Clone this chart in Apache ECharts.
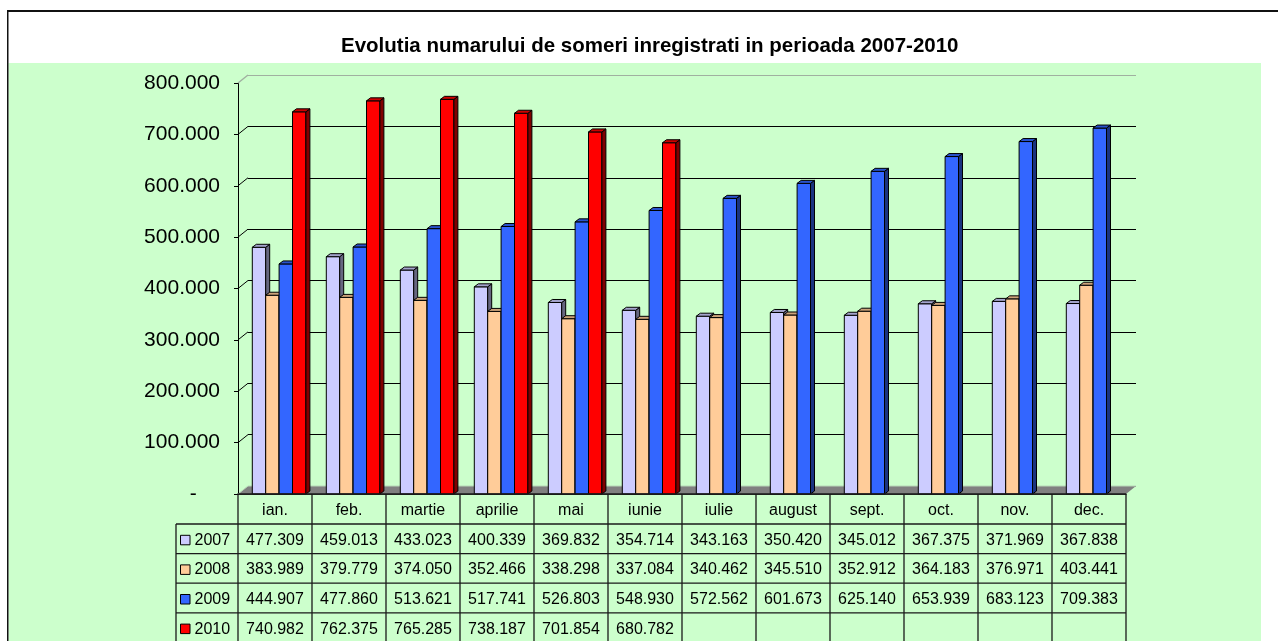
<!DOCTYPE html>
<html><head><meta charset="utf-8">
<script src="https://cdn.jsdelivr.net/npm/echarts@6/dist/echarts.min.js"></script>
<style>html,body{margin:0;padding:0;background:#fff;overflow:hidden}#c{width:1278px;height:641px}</style>
</head><body><div id="c"></div>
<script>
// ---- data ----
const categories = ['ian.','feb.','martie','aprilie','mai','iunie','iulie','august','sept.','oct.','nov.','dec.'];
const years = ['2007','2008','2009','2010'];
const v2007 = [477309,459013,433023,400339,369832,354714,343163,350420,345012,367375,371969,367838];
const v2008 = [383989,379779,374050,352466,338298,337084,340462,345510,352912,364183,376971,403441];
const v2009 = [444907,477860,513621,517741,526803,548930,572562,601673,625140,653939,683123,709383];
const v2010 = [740982,762375,765285,738187,701854,680782,null,null,null,null,null,null];
const yTicks = [0,100000,200000,300000,400000,500000,600000,700000,800000];
const title = 'Evolutia numarului de someri inregistrati in perioada 2007-2010';

const seriesVals = [v2007, v2008, v2009, v2010];
const frontColors = ['#CCCCFF','#FFCC99','#3366FF','#FF0000'];
const topColors   = ['#A3A3CC','#CCA37A','#2952CC','#CC0000'];
const sideColors  = ['#666680','#80664D','#1A3380','#800000'];

// ---- layout ----
const L = 238, T = 83, W = 888, H = 411, DX = 10, DY = -8;
const FONT = 'Arial, "Liberation Sans", sans-serif';
const BAR_OFF = 14.3/74, BAR_W = 13.4/74, BDX = 4, BDY = -3, BASE_LIFT = 1.5;

const fmt = v => String(v).replace(/\B(?=(\d{3})+(?!\d))/g, '.');

function barSeries(i) {
  const data = [];
  seriesVals[i].forEach((v, k) => { if (v != null) data.push([k, v]); });
  return {
    type: 'custom', name: years[i], xAxisIndex: 0, yAxisIndex: 0, z: 3,
    data: data,
    renderItem: function (params, api) {
      const k = api.value(0), v = api.value(1);
      const base = api.coord([k, 0]);
      const top = api.coord([k, v]);
      const band = api.size([1, 0])[0];
      const x0 = base[0] - band / 2 + band * BAR_OFF + i * band * BAR_W;
      const w = band * BAR_W;
      const yb = base[1], yt = top[1] - BASE_LIFT;
      const st = { stroke: '#000', lineWidth: 1 };
      return { type: 'group', children: [
        { type: 'rect', shape: { x: x0, y: yt, width: w, height: yb - yt }, style: Object.assign({ fill: frontColors[i] }, st) },
        { type: 'polygon', shape: { points: [[x0 + w, yb], [x0 + w, yt], [x0 + w + BDX, yt + BDY], [x0 + w + BDX, yb + BDY]] }, style: Object.assign({ fill: sideColors[i] }, st) },
        { type: 'polygon', shape: { points: [[x0, yt], [x0 + w, yt], [x0 + w + BDX, yt + BDY], [x0 + BDX, yt + BDY]] }, style: Object.assign({ fill: topColors[i] }, st) }
      ]};
    }
  };
}

const floorSeries = {
  type: 'custom', xAxisIndex: 0, yAxisIndex: 0, z: 2, silent: true,
  data: [[0, 0]],
  renderItem: function (params, api) {
    const band = api.size([1, 0])[0];
    const a = api.coord([0, 0]), b = api.coord([categories.length - 1, 0]);
    const xl = a[0] - band / 2, xr = b[0] + band / 2, y = a[1];
    return { type: 'group', children: [
      { type: 'polygon', shape: { points: [[xl, y], [xr, y], [xr + DX, y + DY], [xl + DX, y + DY]] }, style: { fill: '#808080' } },
      { type: 'line', shape: { x1: xl + DX, y1: y + DY, x2: xr + DX, y2: y + DY }, style: { stroke: '#B8D8B8', lineWidth: 1 } },
      { type: 'line', shape: { x1: xl, y1: y, x2: xl + DX, y2: y + DY }, style: { stroke: '#B8D8B8', lineWidth: 1 } }
    ]};
  }
};

const linkSeries = {
  type: 'custom', xAxisIndex: 0, yAxisIndex: 0, z: 2, silent: true,
  data: yTicks.filter(v => v > 0).map(v => [0, v]),
  renderItem: function (params, api) {
    const band = api.size([1, 0])[0];
    const v = api.value(1);
    const p = api.coord([0, v]);
    const xl = p[0] - band / 2;
    return { type: 'line', shape: { x1: xl, y1: p[1], x2: xl + DX, y2: p[1] + DY },
      style: { stroke: v === 800000 ? '#A0B0A0' : '#000', lineWidth: v === 800000 ? 1.5 : 1 } };
  }
};

// ---- data table (graphic) ----
const colW = W / categories.length;
const headTop = T + H, headH = 30, rowH = 29.6, legLeft = 176, bottomY = 660;
const rowTops = years.map((y, r) => headTop + headH + r * rowH);
const table = [];
table.push({ type: 'rect', z: -10, shape: { x: 8.5, y: 63, width: 1252.5, height: 600 }, style: { fill: '#CCFFCC' } });
table.push({ type: 'line', z: 20, shape: { x1: 7, y1: 11, x2: 1300, y2: 11 }, style: { stroke: '#111', lineWidth: 2 } });
table.push({ type: 'line', z: 20, shape: { x1: 7.75, y1: 10, x2: 7.75, y2: 700 }, style: { stroke: '#111', lineWidth: 1.5 } });
const ls = { stroke: '#1a1a1a', lineWidth: 1.3 };
table.push({ type: 'line', z: 10, shape: { x1: L, y1: headTop, x2: L + W, y2: headTop }, style: ls });
rowTops.forEach(y => table.push({ type: 'line', z: 10, shape: { x1: legLeft, y1: y, x2: L + W, y2: y }, style: ls }));
table.push({ type: 'line', z: 10, shape: { x1: legLeft, y1: rowTops[0], x2: legLeft, y2: bottomY }, style: ls });
for (let k = 0; k <= categories.length; k++) {
  table.push({ type: 'line', z: 10, shape: { x1: L + k * colW, y1: headTop, x2: L + k * colW, y2: bottomY }, style: ls });
}
categories.forEach((c, k) => table.push({ type: 'text', z: 10, x: L + (k + 0.5) * colW, y: headTop + headH / 2 + 1.5,
  style: { text: c, fill: '#000', font: '16px ' + FONT, textAlign: 'center', textVerticalAlign: 'middle' } }));
years.forEach((yr, r) => {
  const cy = rowTops[r] + rowH / 2 + 1.5;
  table.push({ type: 'rect', z: 10, shape: { x: 180.5, y: cy - 5, width: 9.5, height: 9.5 }, style: { fill: frontColors[r], stroke: '#000', lineWidth: 1 } });
  table.push({ type: 'text', z: 10, x: 194.5, y: cy, style: { text: yr, fill: '#000', font: '16px ' + FONT, textAlign: 'left', textVerticalAlign: 'middle' } });
  seriesVals[r].forEach((v, k) => {
    if (v == null) return;
    table.push({ type: 'text', z: 10, x: L + (k + 0.5) * colW, y: cy,
      style: { text: fmt(v), fill: '#000', font: '16px ' + FONT, textAlign: 'center', textVerticalAlign: 'middle' } });
  });
});

const chart = echarts.init(document.getElementById('c'), null, { renderer: 'canvas' });
chart.setOption({
  backgroundColor: '#fff',
  animation: false,
  title: { text: title, left: 336, top: 31, textStyle: { fontSize: 20.5, fontWeight: 'bold', fontFamily: FONT, color: '#000' } },
  grid: [
    { left: L, top: T, width: W, height: H },
    { left: L + DX, top: T + DY, width: W, height: H }
  ],
  xAxis: [
    { type: 'category', gridIndex: 0, data: categories, axisLine: { show: true, lineStyle: { color: '#000', width: 1.5 } }, axisTick: { show: false }, axisLabel: { show: false }, splitLine: { show: false } },
    { type: 'category', gridIndex: 1, data: categories, show: false }
  ],
  yAxis: [
    { type: 'value', gridIndex: 0, min: 0, max: 800000, interval: 100000,
      axisLine: { show: true, lineStyle: { color: '#000', width: 1 } },
      axisTick: { show: true, inside: false, length: 4, lineStyle: { color: '#000' } },
      axisLabel: { margin: 18, fontSize: 21, fontFamily: FONT, color: '#000', formatter: v => v === 0 ? '-    ' : fmt(v) },
      splitLine: { show: false } },
    { type: 'value', gridIndex: 1, min: 0, max: 800000, interval: 100000,
      axisLine: { show: false }, axisTick: { show: false }, axisLabel: { show: false },
      splitLine: { show: true, lineStyle: { width: 1, color: ['#808080','#000','#000','#000','#000','#000','#000','#000','#A0B0A0'] } } }
  ],
  graphic: { elements: table },
  series: [floorSeries, linkSeries, barSeries(0), barSeries(1), barSeries(2), barSeries(3)]
});
</script></body></html>
